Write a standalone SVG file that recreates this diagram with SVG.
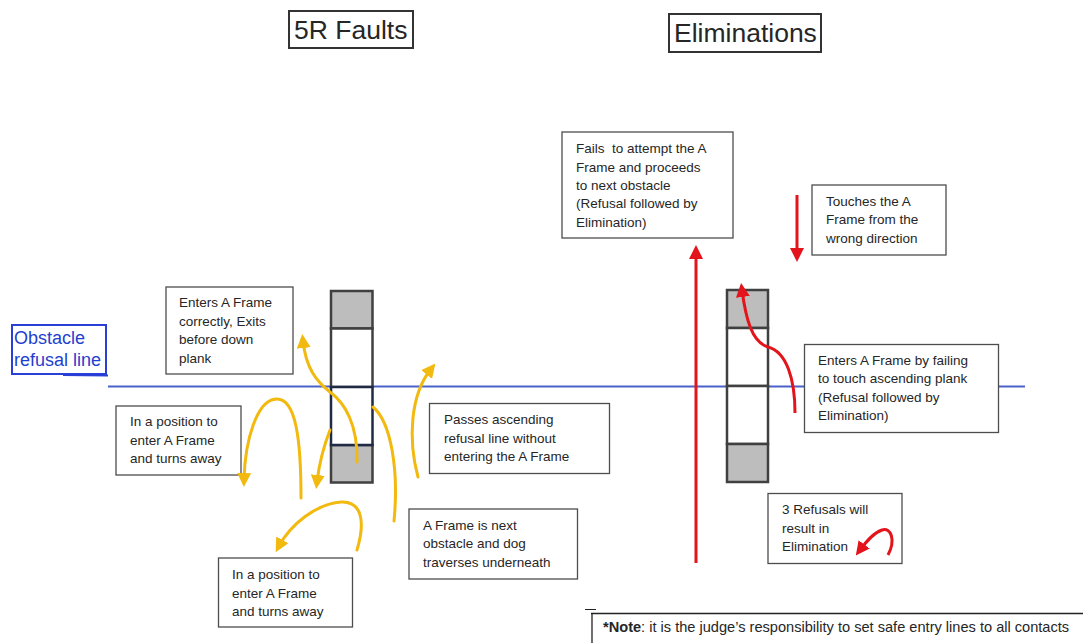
<svg xmlns="http://www.w3.org/2000/svg" width="1083" height="643" viewBox="0 0 1083 643">
<style>
.bx{fill:#fff;stroke:#4d4d4d;stroke-width:1.3}
.t{font-family:"Liberation Sans",Arial,sans-serif;font-size:13.5px;fill:#262626}
.title{font-family:"Liberation Sans",Arial,sans-serif;font-size:26.5px;fill:#262626}
.tb{fill:#fff;stroke:#333;stroke-width:2}
.ya{fill:none;stroke:#f2b90f;stroke-width:3;stroke-linecap:round}
.ra{fill:none;stroke:#e3141b;stroke-width:3}
.grey{fill:#bdbdbd;stroke:#404040;stroke-width:2.5}
.wh{fill:#fff;stroke:#404040;stroke-width:2.5}
</style>
<defs>
<marker id="yh" markerUnits="userSpaceOnUse" markerWidth="14" markerHeight="14" viewBox="0 0 12 12" refX="6" refY="6" orient="auto"><path d="M0,0 L12,6 L0,12 z" fill="#f2b90f"/></marker>
<marker id="rh" markerUnits="userSpaceOnUse" markerWidth="14" markerHeight="14" viewBox="0 0 12 12" refX="6" refY="6" orient="auto"><path d="M0,0 L12,6 L0,12 z" fill="#e3141b"/></marker>
</defs>
<rect width="1083" height="643" fill="#fff"/>

<g id="title-faults">
<rect class="tb" x="289" y="11" width="124" height="37"/>
<text class="title" x="294" y="39">5R Faults</text>
</g>
<g id="title-elims">
<rect class="tb" x="669" y="14" width="152" height="38"/>
<text class="title" x="674" y="42">Eliminations</text>
</g>

<g id="refusal-line">
<line x1="108" y1="386.5" x2="1025" y2="386.5" stroke="#4a62c8" stroke-width="2"/>
</g>
<g id="refusal-label">
<rect x="12" y="325" width="94" height="49" fill="#fff" stroke="#2a3fd6" stroke-width="2"/>
<line x1="63" y1="375" x2="108" y2="375.5" stroke="#2a3fd6" stroke-width="2"/>
<text x="14" y="344" font-family="'Liberation Sans',Arial,sans-serif" font-size="18" fill="#1f3fd0">Obstacle</text>
<text x="14" y="366" font-family="'Liberation Sans',Arial,sans-serif" font-size="18" fill="#1f3fd0">refusal line</text>
</g>

<g id="aframe-left">
<rect class="grey" x="331" y="291" width="41.5" height="37.5"/>
<rect class="wh" x="331" y="328.5" width="41.5" height="58.5"/>
<rect class="grey" x="331" y="445" width="41.5" height="37.5"/>
<rect x="331" y="387" width="41.5" height="58" fill="#fff" stroke="#1f2a44" stroke-width="2.5"/>
</g>
<g id="aframe-right">
<rect class="grey" x="727" y="290" width="41" height="38"/>
<rect class="wh" x="727" y="328" width="41" height="58"/>
<rect class="wh" x="727" y="386" width="41" height="58"/>
<rect class="grey" x="727" y="444" width="41" height="38"/>
</g>

<g id="box-exits-early">
<rect class="bx" x="166" y="287" width="127" height="87"/>
<text class="t" x="179" y="307">Enters A Frame</text>
<text class="t" x="179" y="325.5">correctly, Exits</text>
<text class="t" x="179" y="344">before down</text>
<text class="t" x="179" y="362.5">plank</text>
</g>
<g id="box-turns-away-1">
<rect class="bx" x="116" y="406" width="125" height="69"/>
<text class="t" x="130" y="426">In a position to</text>
<text class="t" x="130" y="444.5">enter A Frame</text>
<text class="t" x="130" y="463">and turns away</text>
</g>
<g id="box-passes">
<rect class="bx" x="429.5" y="403.5" width="180" height="70"/>
<text class="t" x="444" y="424">Passes ascending</text>
<text class="t" x="444" y="442.5">refusal line without</text>
<text class="t" x="444" y="461">entering the A Frame</text>
</g>
<g id="box-underneath">
<rect class="bx" x="409" y="509" width="168.5" height="70"/>
<text class="t" x="423" y="529.5">A Frame is next</text>
<text class="t" x="423" y="548">obstacle and dog</text>
<text class="t" x="423" y="566.5">traverses underneath</text>
</g>
<g id="box-turns-away-2">
<rect class="bx" x="218.5" y="558" width="134" height="69"/>
<text class="t" x="232" y="579">In a position to</text>
<text class="t" x="232" y="597.5">enter A Frame</text>
<text class="t" x="232" y="616">and turns away</text>
</g>
<g id="box-fails">
<rect class="bx" x="562" y="132" width="171" height="106"/>
<text class="t" x="576" y="153">Fails&#160; to attempt the A</text>
<text class="t" x="576" y="171.5">Frame and proceeds</text>
<text class="t" x="576" y="189.5">to next obstacle</text>
<text class="t" x="576" y="208">(Refusal followed by</text>
<text class="t" x="576" y="226.5">Elimination)</text>
</g>
<g id="box-wrong-dir">
<rect class="bx" x="812" y="185" width="134" height="70"/>
<text class="t" x="826" y="205.5">Touches the A</text>
<text class="t" x="826" y="224">Frame from the</text>
<text class="t" x="826" y="242.5">wrong direction</text>
</g>
<g id="box-fails-touch">
<rect class="bx" x="804.5" y="344.5" width="194" height="88"/>
<text class="t" x="818" y="365">Enters A Frame by failing</text>
<text class="t" x="818" y="383">to touch ascending plank</text>
<text class="t" x="818" y="401.5">(Refusal followed by</text>
<text class="t" x="818" y="420">Elimination)</text>
</g>
<g id="box-three">
<rect class="bx" x="768" y="493.5" width="134" height="70"/>
<text class="t" x="782" y="514">3 Refusals will</text>
<text class="t" x="782" y="532.5">result in</text>
<text class="t" x="782" y="551">Elimination</text>
</g>

<g id="connectors">
<path class="ya" d="M301,498 C301,440 296,399 277,399 C257,399 245,440 244,480" marker-end="url(#yh)"/>
<path class="ya" d="M357,462 C358,425 345,403 330,392 C316,381 306,368 303,341" marker-end="url(#yh)"/>
<path class="ya" d="M330,430 C323,448 319,465 317,482" marker-end="url(#yh)"/>
<path class="ya" d="M373,407 C391,422 399,470 394,521"/>
<path class="ya" d="M418,477 C408,440 410,395 431,369" marker-end="url(#yh)"/>
<path class="ya" d="M357,550 C366,520 361,501 341,502 C316,504 291,524 279,546" marker-end="url(#yh)"/>
<path class="ra" d="M696,563 L696,252" marker-end="url(#rh)"/>
<path class="ra" d="M797,195 L797,255" marker-end="url(#rh)"/>
<path class="ra" d="M795,413 C795,380 787,352 768,347 C752,342 746,320 742,290" marker-end="url(#rh)"/>
<path class="ra" d="M888,555 C896,540 891,527 882,530 C873,533 866,542 860,550" marker-end="url(#rh)"/>
</g>

<g id="note">
<line x1="585" y1="609.5" x2="596" y2="609.5" stroke="#222" stroke-width="1"/>
<line x1="591" y1="613.5" x2="1083" y2="613.5" stroke="#222" stroke-width="1.3"/>
<line x1="592" y1="613.5" x2="592" y2="643" stroke="#222" stroke-width="1.3"/>
<text class="t" x="603" y="632" style="font-size:14.6px"><tspan font-weight="bold">*Note</tspan>: it is the judge’s responsibility to set safe entry lines to all contacts</text>
</g>
</svg>
